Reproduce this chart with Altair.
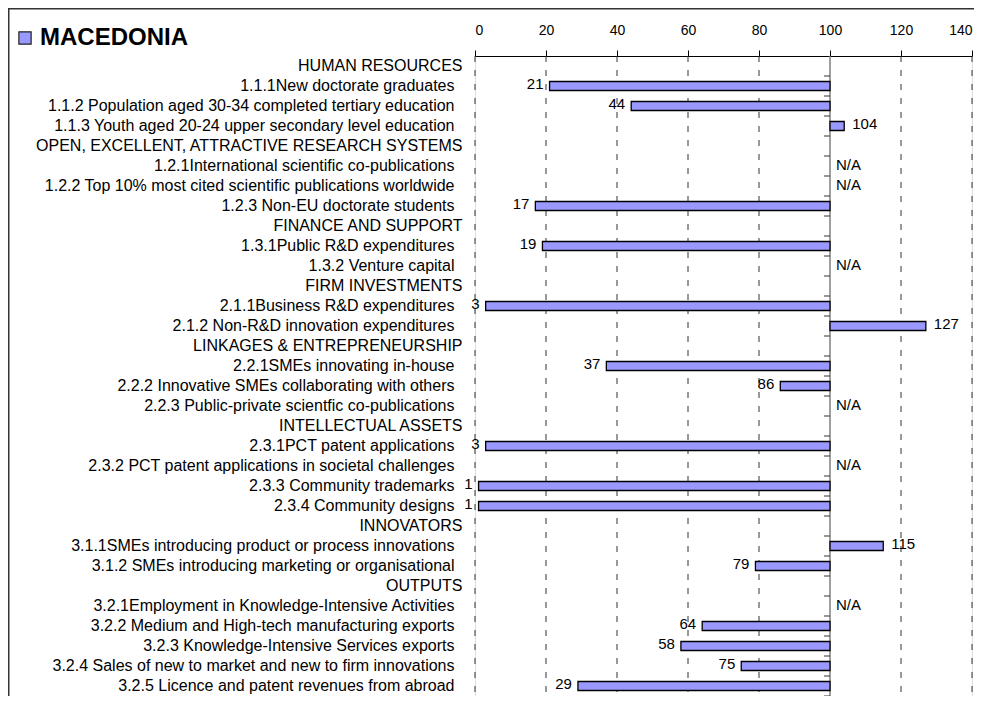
import altair as alt
import pandas as pd

labels = [
    "HUMAN RESOURCES",
    "1.1.1New doctorate graduates",
    "1.1.2 Population aged 30-34 completed tertiary education",
    "1.1.3 Youth aged 20-24 upper secondary level education",
    "OPEN, EXCELLENT, ATTRACTIVE RESEARCH SYSTEMS",
    "1.2.1International scientific co-publications",
    "1.2.2 Top 10% most cited scientific publications worldwide",
    "1.2.3 Non-EU doctorate students",
    "FINANCE AND SUPPORT",
    "1.3.1Public R&D expenditures",
    "1.3.2 Venture capital",
    "FIRM INVESTMENTS",
    "2.1.1Business R&D expenditures",
    "2.1.2 Non-R&D innovation expenditures",
    "LINKAGES & ENTREPRENEURSHIP",
    "2.2.1SMEs innovating in-house",
    "2.2.2 Innovative SMEs collaborating with others",
    "2.2.3 Public-private scientfic co-publications",
    "INTELLECTUAL ASSETS",
    "2.3.1PCT patent applications",
    "2.3.2 PCT patent applications in societal challenges",
    "2.3.3 Community trademarks",
    "2.3.4 Community designs",
    "INNOVATORS",
    "3.1.1SMEs introducing product or process innovations",
    "3.1.2 SMEs introducing marketing or organisational",
    "OUTPUTS",
    "3.2.1Employment in Knowledge-Intensive Activities",
    "3.2.2 Medium and High-tech manufacturing exports",
    "3.2.3 Knowledge-Intensive Services exports",
    "3.2.4 Sales of new to market and new to firm innovations",
    "3.2.5 Licence and patent revenues from abroad",
]

# "H" = section header, "NA" = not available, otherwise the score
values = [
    "H", 21, 44, 104,
    "H", "NA", "NA", 17,
    "H", 19, "NA",
    "H", 3, 127,
    "H", 37, 86, "NA",
    "H", 3, "NA", 1, 1,
    "H", 115, 79,
    "H", "NA", 64, 58, 75, 29,
]

series_name = "MACEDONIA"
eu_reference = 100
x_ticks = [0, 20, 40, 60, 80, 100, 120, 140]
grid_ticks = [0, 20, 40, 60, 80, 120, 140]

rows = []
for lab, v in zip(labels, values):
    if v == "H":
        rows.append({"label": lab, "kind": "header", "value": None})
    elif v == "NA":
        rows.append({"label": lab, "kind": "na", "value": None})
    else:
        rows.append({"label": lab, "kind": "val", "value": float(v)})
df = pd.DataFrame(rows)
df["base"] = eu_reference
df["series"] = series_name
order = list(df["label"])

FONT = "Liberation Sans"
W, H = 497, 640

y_enc = alt.Y(
    "label:N",
    sort=order,
    scale=alt.Scale(domain=order, paddingInner=0, paddingOuter=0),
    axis=alt.Axis(
        title=None, domain=False, ticks=False, grid=False,
        labelFont=FONT, labelFontSize=16, labelColor="black",
        labelPadding={"condition": {"test": "indexof(datum.value, '.') < 0", "value": 13}, "value": 21},
        labelLimit=0,
    ),
)
x_scale = alt.Scale(domain=[0, 140], nice=False, zero=False)

base = alt.Chart(df)

grid = alt.Chart(pd.DataFrame({"g": grid_ticks})).mark_rule(
    color="#333333", strokeWidth=1, strokeDash=[6, 8]
).encode(
    x=alt.X("g:Q", scale=x_scale,
            axis=alt.Axis(
                orient="top", values=x_ticks, title=None, grid=False,
                domainColor="black", domainWidth=1, tickColor="black",
                tickSize=6, labelFont=FONT, labelFontSize=14,
                labelColor="black", labelPadding=13, format="d",
            )),
)

ref_line = alt.Chart(pd.DataFrame({"r": [eu_reference]})).mark_rule(
    color="#808080", strokeWidth=1.5
).encode(x=alt.X("r:Q", scale=x_scale))

row_ticks = base.mark_rule(color="#333333", strokeWidth=1, yOffset=10).encode(
    y=y_enc,
    x=alt.datum(eu_reference - 1.7, scale=x_scale),
    x2=alt.datum(eu_reference),
)

bars = base.transform_filter("datum.kind == 'val'").mark_bar(
    size=9, stroke="black", strokeWidth=1.3
).encode(
    y=y_enc,
    x=alt.X("value:Q", scale=x_scale),
    x2="base:Q",
    color=alt.Color(
        "series:N",
        scale=alt.Scale(domain=[series_name], range=["#9999FF"]),
        legend=alt.Legend(
            orient="none", legendX=-462, legendY=-30, title=None,
            symbolType="square", symbolSize=150, symbolStrokeColor="#222222",
            symbolStrokeWidth=1.2, symbolFillColor="#9999FF",
            labelFont=FONT, labelFontSize=24, labelFontWeight="bold",
            labelColor="black", labelOffset=3, padding=0,
        ),
    ),
)

lab_left = base.transform_filter("datum.kind == 'val' && datum.value < 100").mark_text(
    align="right", baseline="middle", dx=-6, dy=-2, font=FONT, fontSize=15, color="black"
).encode(y=y_enc, x=alt.X("value:Q", scale=x_scale), text=alt.Text("value:Q", format="d"))

lab_right = base.transform_filter("datum.kind == 'val' && datum.value >= 100").mark_text(
    align="left", baseline="middle", dx=8, dy=-2, font=FONT, fontSize=15, color="black"
).encode(y=y_enc, x=alt.X("value:Q", scale=x_scale), text=alt.Text("value:Q", format="d"))

lab_na = base.transform_filter("datum.kind == 'na'").mark_text(
    align="left", baseline="middle", dx=6, dy=-1, font=FONT, fontSize=15, color="black"
).encode(y=y_enc, x=alt.X("base:Q", scale=x_scale), text=alt.value("N/A"))

frame_src = alt.Chart(pd.DataFrame({"f": [0]}))
frame_top = frame_src.mark_rule(color="#333333", strokeWidth=3).encode(
    x=alt.value(-468), x2=alt.value(W + 2), y=alt.value(-48))
frame_left = frame_src.mark_rule(color="#333333", strokeWidth=3).encode(
    x=alt.value(-467), y=alt.value(-49), y2=alt.value(H))

chart = alt.layer(
    grid, ref_line, row_ticks, bars, lab_left, lab_right, lab_na, frame_top, frame_left
).properties(
    width=W, height=H,
    autosize=alt.AutoSizeParams(type="none"),
    padding={"left": 467, "top": 48, "right": 2, "bottom": 0},
).configure_view(stroke=None).configure(background="white")

chart.save("out.html", embed_options={"renderer": "svg", "actions": False})
